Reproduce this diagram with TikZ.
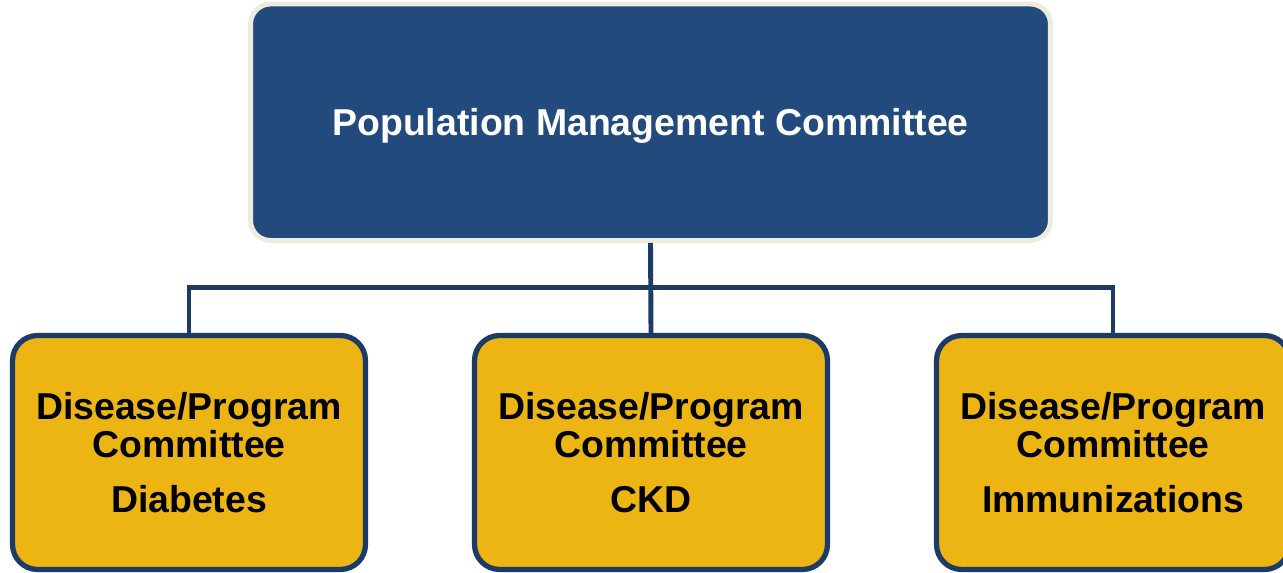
\documentclass[tikz,border=0pt]{standalone}
\usepackage{fontspec}
\setmainfont{Liberation Sans}
\usetikzlibrary{positioning}
\definecolor{pmblue}{HTML}{224A7C}
\definecolor{pmrim}{HTML}{EEEBDF}
\definecolor{dpgold}{HTML}{ECB514}
\definecolor{dpnavy}{HTML}{1C3B66}

\begin{document}
\begin{tikzpicture}[x=0.02cm, y=-0.02cm,
		every node/.style={font=\fontsize{21.3}{21.5}\selectfont\bfseries, align=center},
		topbox/.style={fill=pmblue, draw=pmrim, line width=2.8pt, rounded corners=0.4cm,
			text=white, text depth=0pt, minimum width=16cm, minimum height=4.73cm, inner sep=0pt},
		progbox/.style={fill=dpgold, draw=dpnavy, line width=3pt, rounded corners=0.5cm,
			text=black, minimum width=7.06cm, minimum height=4.68cm, inner sep=0pt},
		wire/.style={draw=dpnavy, line width=2.8pt}]
			\useasboundingbox (0,0) rectangle (1283,573);
			\node[topbox] (pmc) at (650.5,122.25) {Population Management Committee};
			\foreach \x/\n/\topic in {189/dpa/Diabetes, 651/dpb/CKD, 1113/dpc/Immunizations} {
				\node[progbox] (\n) at (\x,452.5) {Disease/Program\\Committee\\[9.6pt]\topic};
			}
			\coordinate (bus) at (650.5,287.5);
			\draw[wire] (pmc.south) -- (dpb.north);
			\draw[wire] (dpa.north) |- (bus) -| (dpc.north);
		\end{tikzpicture}
\end{document}
